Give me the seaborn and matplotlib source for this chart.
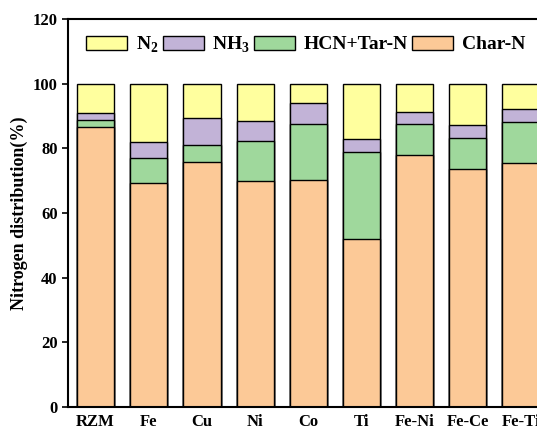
import pandas as pd
import matplotlib.pyplot as plt
import seaborn as sns
from matplotlib.patches import Patch

# Nitrogen distribution (%) for each sample
samples = ['RZM', 'Fe', 'Cu', 'Ni', 'Co', 'Ti', 'Fe-Ni', 'Fe-Ce', 'Fe-Ti']
char_n = [86.6, 69.2, 75.8, 69.9, 70.2, 52.0, 77.8, 73.6, 75.5]
hcn_tar = [2.2, 7.9, 5.1, 12.4, 17.3, 27.0, 9.7, 9.7, 12.7]
nh3 = [2.0, 4.9, 8.4, 6.1, 6.4, 3.8, 3.7, 3.9, 4.1]
n2 = [9.2, 18.0, 10.7, 11.6, 6.1, 17.2, 8.8, 12.8, 7.7]

series = ['Char-N', 'HCN+Tar-N', 'NH3', 'N2']
colors = {'N2': '#FFFF9E', 'NH3': '#C2B3D7', 'HCN+Tar-N': '#9FD89C', 'Char-N': '#FCC997'}

df = pd.DataFrame({'Sample': samples, 'Char-N': char_n, 'HCN+Tar-N': hcn_tar,
                   'NH3': nh3, 'N2': n2})
# cumulative heights for stacking
cum = df[series].cumsum(axis=1)
cum['Sample'] = df['Sample']

sns.set_theme(style="ticks")
plt.rcParams['font.family'] = ['Liberation Serif', 'DejaVu Serif']
plt.rcParams['font.weight'] = 'bold'
plt.rcParams['text.color'] = 'black'
plt.rcParams['axes.labelcolor'] = 'black'
plt.rcParams['xtick.color'] = 'black'
plt.rcParams['ytick.color'] = 'black'
plt.rcParams['mathtext.fontset'] = 'custom'
plt.rcParams['mathtext.rm'] = 'Liberation Serif:bold'
plt.rcParams['mathtext.bf'] = 'Liberation Serif:bold'

fig = plt.figure(figsize=(5.37, 4.30), dpi=100)
ax = fig.add_axes([0.1266, 0.0535, 0.8734, 0.9025])

# draw from the top of the stack down
for s in reversed(series):
    sns.barplot(data=cum, x='Sample', y=s, color=colors[s], width=0.7,
                edgecolor='black', linewidth=1.0, saturation=1, ax=ax)

ax.set_ylim(0, 120)
ax.set_xlim(-0.52, 8.3)
ax.set_yticks(range(0, 121, 20))
ax.set_xlabel('')
ax.set_ylabel('Nitrogen distribution(%)', fontsize=13, fontweight='bold', labelpad=3)
ax.tick_params(axis='y', labelsize=12, length=4, width=1.2, direction='out')
ax.tick_params(axis='x', labelsize=12, length=0, pad=5)
for lab in ax.get_xticklabels() + ax.get_yticklabels():
    lab.set_fontweight('bold')
for sp in ['left', 'bottom', 'top']:
    ax.spines[sp].set_linewidth(1.5)
    ax.spines[sp].set_color('black')
ax.spines['right'].set_visible(False)

labels = {'N2': r'N$_2$', 'NH3': r'NH$_3$', 'HCN+Tar-N': 'HCN+Tar-N', 'Char-N': 'Char-N'}
handles = [Patch(facecolor=colors[s], edgecolor='black', linewidth=1.0, label=labels[s])
           for s in ['N2', 'NH3', 'HCN+Tar-N', 'Char-N']]
ax.legend(handles=handles, ncol=4, frameon=False, loc='upper left',
          bbox_to_anchor=(0.01, 0.995), prop={'size': 14, 'weight': 'bold'},
          handlelength=2.1, handleheight=0.75, handletextpad=0.45,
          columnspacing=0.22, borderaxespad=0.3)

plt.savefig('out.png', dpi=100)
